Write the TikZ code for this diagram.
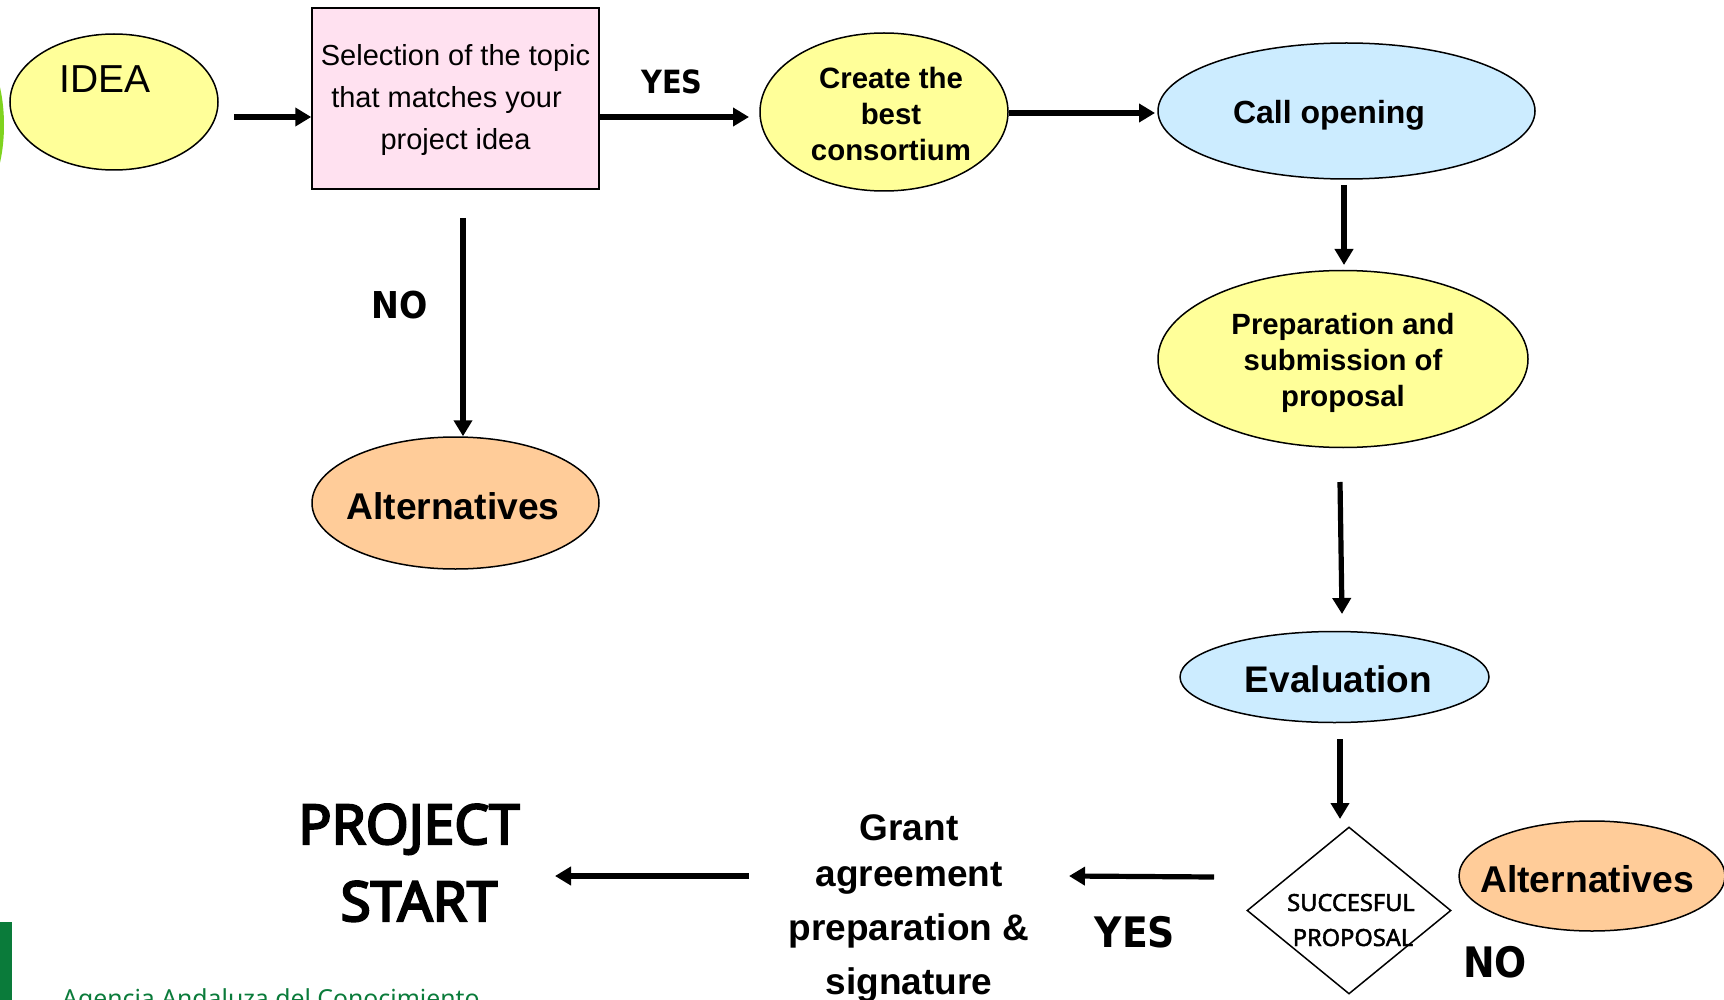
\documentclass[tikz,border=0pt]{standalone}
\usepackage{fontspec}
\usetikzlibrary{shapes.geometric,arrows.meta}
\setmainfont{Liberation Sans}
\newfontfamily\tah{Noto Sans}
\newfontfamily\tahf[FakeBold=2]{Noto Sans}
\newfontfamily\tahg[FakeBold=4]{Noto Sans}
\newfontfamily\tahb{DejaVu Sans Condensed}
\definecolor{ylw}{HTML}{FFFF99}
\definecolor{pnk}{HTML}{FFE1F0}
\definecolor{blu}{HTML}{CCECFF}
\definecolor{org}{HTML}{FFCC99}
\definecolor{grn}{HTML}{0A7B3A}
\definecolor{lime}{HTML}{7FD31E}
\tikzset{
  x=1pt,y=-1pt,
  shp/.style={draw=black,line width=1.5pt,inner sep=0pt},
  elps/.style={shp,ellipse},
  arr/.style={line width=5.2pt,draw=black,-{Triangle[length=16pt,width=18pt]}},
  lab/.style={inner sep=0pt,anchor=base,align=center},
  txt/.style={inner sep=0pt,align=center},
  fs/.style={font=\fontsize{#1}{#1}\selectfont\bfseries},
  tb/.style={font=\tahb\bfseries\fontsize{#1}{#1}\selectfont},
  tg/.style={font=\tahg\fontsize{#1}{#1}\selectfont},
}
\begin{document}
\begin{tikzpicture}
\path[use as bounding box] (0,0) rectangle (1724,1000);
\clip (0,0) rectangle (1724,1000);
\fill[white] (0,0) rectangle (1724,1000);
% decoration
\fill[lime] (-30,125) ellipse [x radius=34,y radius=80];
\fill[grn] (0,922) rectangle (12,1000);
\node[inner sep=0pt,anchor=base west,text=grn,font=\tah\fontsize{24.8}{25}\selectfont] (agency) at (62,1007) {Agencia Andaluza del Conocimiento};
% shapes
\node[elps,fill=ylw,minimum width=208pt,minimum height=136pt] (idea) at (114,102) {};
\node[lab,font=\fontsize{39}{39}\selectfont] (ideatxt) at (105,93) {IDEA};
\node[shp,rectangle,fill=pnk,minimum width=287pt,minimum height=181pt] (topic) at (455.5,98.5) {};
\node[txt,font=\fontsize{29}{42}\selectfont] (topictxt) at (455.5,100) {Selection of the topic\\\mbox{that matches your\hspace{18pt}}\\project idea};
\node[elps,fill=ylw,minimum width=248pt,minimum height=158pt] (best) at (884,112) {};
\node[txt,font=\fontsize{29.4}{36}\selectfont\bfseries] (besttxt) at (891,114) {Create the\\best\\consortium};
\node[elps,fill=blu,minimum width=377pt,minimum height=136pt] (call) at (1346.5,111) {};
\node[txt,fs=32] (calltxt) at (1329,115.5) {Call opening};
\node[elps,fill=ylw,minimum width=370pt,minimum height=177pt] (prep) at (1343,359) {};
\node[txt,font=\fontsize{29.3}{36}\selectfont\bfseries] (preptxt) at (1343,363) {Preparation and\\submission of\\proposal};
\node[elps,fill=org,minimum width=287pt,minimum height=132pt] (alta) at (455.5,503) {};
\node[txt,fs=37.2] (altatxt) at (453,506) {Alternatives};
\node[elps,fill=blu,minimum width=309pt,minimum height=91pt] (eval) at (1334.5,677) {};
\node[txt,fs=37] (evaltxt) at (1338.5,679) {Evaluation};
\node[shp,diamond,fill=white,minimum width=204pt,minimum height=167pt] (succ) at (1349,910.5) {};
\node[lab,font=\tahf\fontsize{23.6}{24}\selectfont] (succa) at (1351,911) {SUCCESFUL};
\node[lab,font=\tahf\fontsize{23.6}{24}\selectfont] (succb) at (1353,946) {PROPOSAL};
\node[elps,fill=org,minimum width=266pt,minimum height=110pt] (altb) at (1592,876) {};
\node[lab,fs=37.3] (altbtxt) at (1587,892) {Alternatives};
% free labels
\node[lab,tb=32] (yesa) at (672,93.5) {YES};
\node[lab,tb=37] (noa) at (400,319) {NO};
\node[lab,tb=42] (yesb) at (1135,947) {YES};
\node[lab,tb=42] (nob) at (1495,977) {NO};
\node[lab,tg=55] (proj) at (409,844) {PROJECT};
\node[lab,tg=55] (start) at (419,921) {START};
\node[lab,fs=37] (gra) at (909,840) {Grant};
\node[lab,fs=37] (grb) at (909,886) {agreement};
\node[lab,fs=37] (grc) at (909,940) {preparation \&};
\node[lab,fs=37] (grd) at (909,994) {signature};
% connector free ends
\coordinate (c1) at (234,117);
\coordinate (c2e) at (749,117);
\coordinate (c3e) at (1155,113);
\coordinate (c4s) at (1344,185);
\coordinate (c4e) at (1344,265);
\coordinate (c5s) at (463,218);
\coordinate (c6s) at (1340,482);
\coordinate (c6e) at (1342,614);
\coordinate (c7s) at (1340,739);
\coordinate (c7e) at (1340,819);
\coordinate (c8s) at (1214,877);
\coordinate (c8e) at (1069,876);
\coordinate (c9s) at (749,876);
\coordinate (c9e) at (555,876);
\draw[arr] (c1) -- (c1 -| topic.west);
\draw[arr] (c1 -| topic.east) -- (c2e);
\draw[arr] (c3e -| best.east) -- (c3e);
\draw[arr] (c4s) -- (c4e);
\draw[arr] (c5s) -- (c5s |- alta.north);
\draw[arr] (c6s) -- (c6e);
\draw[arr] (c7s) -- (c7e);
\draw[arr] (c8s) -- (c8e);
\draw[arr] (c9s) -- (c9e);
\end{tikzpicture}
\end{document}
